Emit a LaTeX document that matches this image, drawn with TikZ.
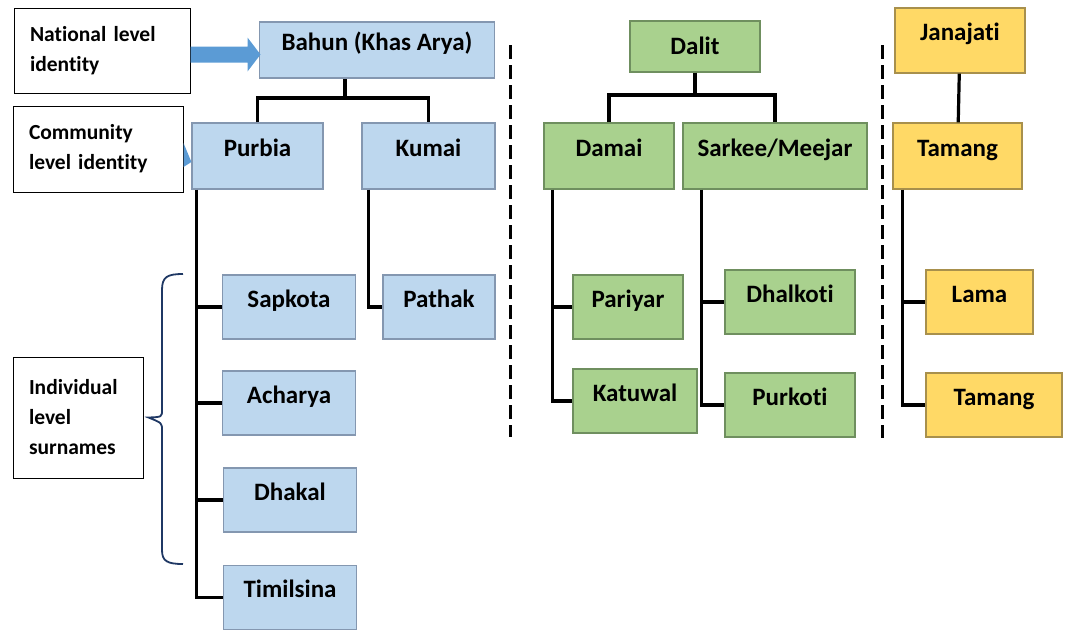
\documentclass[tikz,border=0pt]{standalone}
\usepackage{fontspec}
\setmainfont{Carlito}[Ligatures=NoCommon]
\definecolor{blfill}{HTML}{BDD7EE}
\definecolor{bldraw}{HTML}{8497B0}
\definecolor{grfill}{HTML}{A9D18E}
\definecolor{grdraw}{HTML}{6F8F5F}
\definecolor{yefill}{HTML}{FFD966}
\definecolor{yedraw}{HTML}{A8904C}
\definecolor{arrblue}{HTML}{5B9BD5}
\definecolor{navy}{HTML}{1F3864}

\begin{document}
\begin{tikzpicture}[x=1pt, y=-1pt,
  box/.style={line width=1.2pt, inner sep=2pt, text height=13pt, text depth=13pt,
    font=\bfseries\fontsize{25}{29}\selectfont},
  blue/.style={box, draw=bldraw, fill=blfill},
  green/.style={box, draw=grdraw, fill=grfill},
  yellow/.style={box, draw=yedraw, fill=yefill},
  leaf/.style={minimum width=133pt, minimum height=64pt},
  level/.style={draw=black, line width=1pt, fill=white, align=left, inner sep=0pt,
    font=\bfseries\fontsize{21.5}{30}\selectfont},
  link/.style={black, line width=3.2pt},
  sep/.style={black, line width=3pt, dash pattern=on 14pt off 6pt},
  brace/.style={navy, line width=1.8pt}]
\useasboundingbox (0,0) rectangle (1076,633);
% level labels
\node[level, minimum width=176pt, minimum height=85pt, text width=144pt] (natl) at (102,50.5)
  {National level\\identity};
\node[level, minimum width=170pt, minimum height=86pt, text width=138pt] (comm) at (98,149)
  {Community\\level identity};
\node[level, minimum width=130pt, minimum height=121pt, text width=98pt] (indiv) at (78,417.5)
  {Individual\\level\\surnames};
% Bahun (Khas Arya)
\node[blue, minimum width=235pt, minimum height=56pt] (bahun) at (377,50) {Bahun (Khas Arya)};
\node[blue, minimum width=131pt, minimum height=66pt] (purbia) at (257.5,156) {Purbia};
\node[blue, minimum width=133pt, minimum height=66pt] (kumai) at (428.5,156) {Kumai};
\node[blue, leaf] (sapkota) at (289,307) {Sapkota};
\node[blue, leaf] (acharya) at (289,403) {Acharya};
\node[blue, leaf] (dhakal) at (290,500) {Dhakal};
\node[blue, leaf] (timilsina) at (290,597.5) {Timilsina};
\node[blue, leaf, minimum width=112pt] (pathak) at (439,307) {Pathak};
% Dalit
\node[green, minimum width=130pt, minimum height=51pt, text height=20pt, text depth=4pt]
  (dalit) at (695,46.5) {Dalit};
\node[green, minimum width=130pt, minimum height=66pt] (damai) at (609,156) {Damai};
\node[green, minimum width=184pt, minimum height=66pt] (sarkee) at (775,156) {Sarkee/Meejar};
\node[green, leaf, minimum width=110pt] (pariyar) at (628,307) {Pariyar};
\node[green, leaf, minimum width=124pt] (katuwal) at (635,401) {Katuwal};
\node[green, leaf, minimum width=130pt] (dhalkoti) at (790,302) {Dhalkoti};
\node[green, leaf, minimum width=130pt] (purkoti) at (790,405) {Purkoti};
% Janajati
\node[yellow, minimum width=130pt, minimum height=65pt] (janajati) at (960,40.5) {Janajati};
\node[yellow, minimum width=129pt, minimum height=66pt] (tamang) at (957.5,156) {Tamang};
\node[yellow, leaf, minimum width=107pt] (lama) at (979.5,302) {Lama};
\node[yellow, leaf, minimum width=136pt] (tamangb) at (994,405) {Tamang};
% arrows from the level labels
\fill[arrblue] ([yshift=-4pt]natl.east) ++(0,-8) -- ++(57,0) -- ++(0,-9) -- ++(13,17)
  -- ++(-13,17) -- ++(0,-9) -- ++(-57,0) -- cycle;
\fill[arrblue] ([yshift=6pt]comm.east) -- ([yshift=-6pt]purbia.west) -- ([yshift=-18pt]comm.east) -- cycle;
% brace
\draw[brace] (183,274) .. controls (167,274) and (162,277) .. (162,290) -- (162,410)
  .. controls (162,417) .. ([xshift=5pt]indiv.east) .. controls (162,423) .. (162,430) -- (162,550)
  .. controls (162,561) and (167,564) .. (183,564);
% tree links
\coordinate (bj) at (345,98);
\draw[link] (bj) -- (bj |- bahun.south);
\draw[link] (purbia.north) |- (bj) -| (kumai.north);
\coordinate (dj) at (695,95);
\draw[link] (dalit.south) -- (dj);
\draw[link] (damai.north) |- (dj) -| (sarkee.north);
\draw[link] (janajati) -- (tamang);
\coordinate (pt) at ([xshift=5pt]purbia.south west);
\draw[link] (pt) |- (timilsina.west);
\foreach \n in {sapkota,acharya,dhakal}
  \draw[link] (pt |- \n.west) -- (\n.west);
\draw[link] ([xshift=7pt]kumai.south west) |- (pathak.west);
\coordinate (dt) at ([xshift=9pt]damai.south west);
\draw[link] (dt) |- (katuwal.west);
\draw[link] (dt |- pariyar.west) -- (pariyar.west);
\coordinate (st) at ([xshift=19pt]sarkee.south west);
\draw[link] (st) |- (purkoti.west);
\draw[link] (st |- dhalkoti.west) -- (dhalkoti.west);
\coordinate (tt) at ([xshift=10pt]tamang.south west);
\draw[link] (tt) |- (tamangb.west);
\draw[link] (tt |- lama.west) -- (lama.west);
% group separators
\draw[sep] (510,45) -- (510,437);
\draw[sep] (882,45) -- (882,438);
\end{tikzpicture}
\end{document}
